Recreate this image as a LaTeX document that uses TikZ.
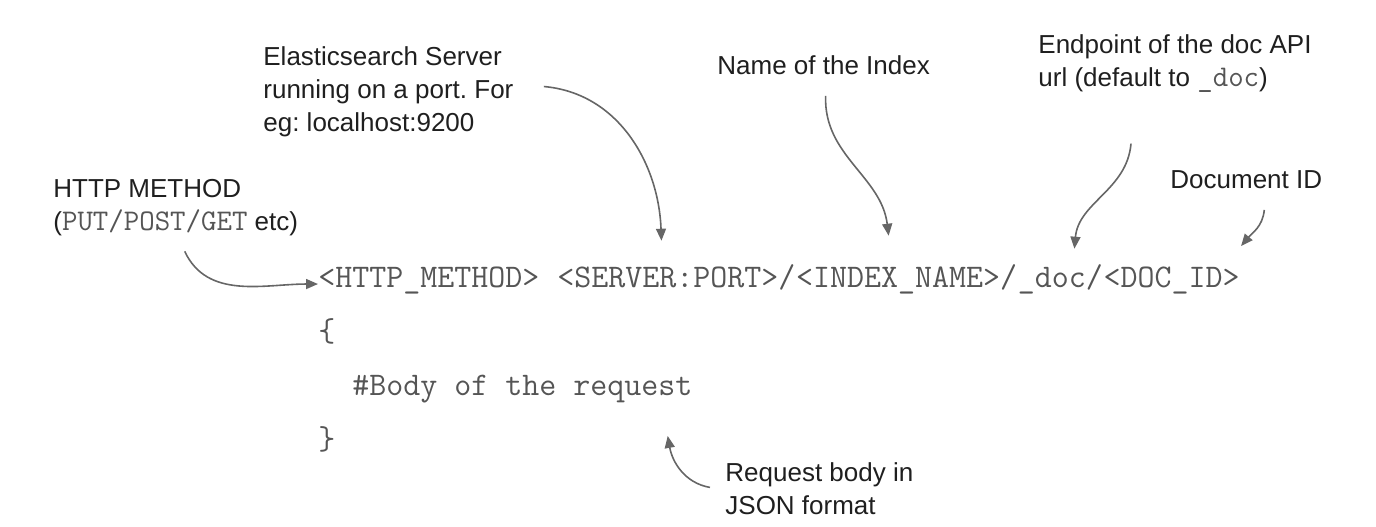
\documentclass[tikz,border=0pt]{standalone}
\usepackage{fontspec}
\setmainfont{Liberation Sans}
\usetikzlibrary{positioning,arrows.meta}
\definecolor{codegray}{HTML}{555555}
\definecolor{arrowgray}{HTML}{666666}
\newcommand{\tcode}[1]{{\ttfamily\fontsize{15}{16.5}\selectfont\textcolor{codegray}{#1}}}
\frenchspacing
\tikzset{
    note/.style={anchor=north west, inner sep=0pt, align=left, text=black!88, font=\fontsize{13}{16.5}\selectfont},
    code/.style={inner sep=0pt, text=codegray, font=\ttfamily\fontsize{16.5}{27}\selectfont},
    line/.style={-{Triangle[length=6pt,width=5pt]}, draw=arrowgray, line width=0.8pt},
}
\begin{document}
\begin{tikzpicture}[x=0.5pt,y=-0.5pt]
    \useasboundingbox (0,0) rectangle (1376,526);

    % the request
    \node[code, anchor=base west] (method) at (318,287) {<HTTP\_METHOD>};
    \node[code, base right=8.66pt of method] (server) {<SERVER:PORT>/};
    \node[code, base right=0pt of server] (index) {<INDEX\_NAME>/};
    \node[code, base right=0pt of index] (docep) {\_doc/};
    \node[code, base right=0pt of docep] (docid) {<DOC\_ID>};
    \node[code, anchor=base west] (open) at (318,341) {\{};
    \node[code, anchor=base west] (body) at (352,395) {\#Body of the request};
    \node[code, anchor=base west] (close) at (318,449) {\}};

    % notes
    \node[note] (methnote) at (53,179) {HTTP METHOD\\(\tcode{PUT/POST/GET} etc)};
    \node[note] (srvnote) at (263,46) {Elasticsearch Server\\running on a port. For\\eg: localhost:9200};
    \node[note] (idxnote) at (717,55) {Name of the Index};
    \node[note] (epnote) at (1038,34) {Endpoint of the doc API\\url (default to \tcode{\_doc})};
    \node[note] (idnote) at (1170,170) {Document ID};
    \node[note] (bodynote) at (725,462) {Request body in\\JSON format};

    \draw[line] ([shift={(4.5pt,-7.5pt)}]methnote.south) to[out=-65,in=180] ([yshift=-2pt]method.west);
    \draw[line] ([shift={(15pt,2.5pt)}]srvnote.east) to[out=-5,in=92] ([shift={(-7.5pt,11.5pt)}]server.north);
    \draw[line] ([shift={(1pt,-10.5pt)}]idxnote.south) to[out=-92,in=97] ([shift={(-9pt,14pt)}]index.north);
    \draw[line] ([shift={(-22pt,-25.5pt)}]epnote.south) to[out=-95,in=85] ([shift={(7pt,7.5pt)}]docep.north);
    \draw[line] ([shift={(9pt,-10.5pt)}]idnote.south) to[out=-95,in=50] ([shift={(0.5pt,10pt)}]docid.north east);
    \draw[line] ([shift={(-7.5pt,0.5pt)}]bodynote.west) to[out=170,in=-80] ([shift={(-12.5pt,-16.5pt)}]body.south east);

\end{tikzpicture}
\end{document}
